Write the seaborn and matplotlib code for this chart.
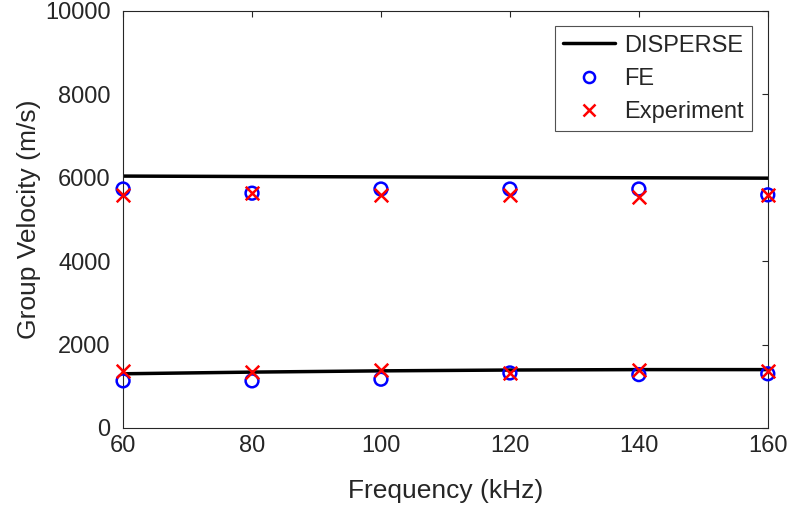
import numpy as np
import pandas as pd
import seaborn as sns
import matplotlib
matplotlib.use("Agg")
import matplotlib.pyplot as plt
from matplotlib.lines import Line2D

freq = [60, 80, 100, 120, 140, 160]

# DISPERSE theoretical curves (two modes)
disperse_upper = [6040, 6030, 6020, 6010, 6000, 5990]
disperse_lower = [1300, 1340, 1370, 1390, 1400, 1400]

# FE simulation results
fe_upper = [5730, 5630, 5730, 5730, 5730, 5590]
fe_lower = [1130, 1130, 1170, 1320, 1280, 1300]

# Experimental measurements
exp_upper = [5590, 5630, 5590, 5590, 5540, 5590]
exp_lower = [1370, 1340, 1390, 1320, 1390, 1370]

sns.set_theme(style="white")
plt.rcParams["font.family"] = ["Liberation Sans", "DejaVu Sans"]
plt.rcParams["xtick.direction"] = "in"
plt.rcParams["ytick.direction"] = "in"

fig = plt.figure(figsize=(7.94, 5.13), dpi=100)
ax = fig.add_axes([0.155, 0.1657, 0.812, 0.813])

df_line = pd.DataFrame({
    "f": freq * 2,
    "v": disperse_upper + disperse_lower,
    "mode": ["upper"] * 6 + ["lower"] * 6,
})
for m in ["upper", "lower"]:
    sns.lineplot(data=df_line[df_line["mode"] == m], x="f", y="v", color="black",
                 linewidth=2.5, ax=ax, legend=False)

sns.scatterplot(x=freq + freq, y=fe_upper + fe_lower, marker="o", s=85,
                facecolor="none", edgecolor="blue", linewidth=1.8, ax=ax,
                clip_on=False, zorder=5)
sns.scatterplot(x=freq + freq, y=exp_upper + exp_lower, marker="x", s=95,
                color="red", linewidth=1.8, ax=ax, clip_on=False, zorder=6)

ax.set_xlim(60, 160)
ax.set_ylim(0, 10000)
ax.set_xticks([60, 80, 100, 120, 140, 160])
ax.set_yticks([0, 2000, 4000, 6000, 8000, 10000])
ax.tick_params(labelsize=17, length=4.5, width=0.8, color="#262626",
               top=True, right=True, labelcolor="#262626")
ax.tick_params(axis="y", pad=9)
ax.tick_params(axis="x", pad=5)
ax.set_xlabel("Frequency (kHz)", fontsize=19, color="#262626", labelpad=16)
ax.set_ylabel("Group Velocity (m/s)", fontsize=19, color="#262626", labelpad=3)
for s in ax.spines.values():
    s.set_color("#262626")
    s.set_linewidth(0.8)

handles = [
    Line2D([], [], color="black", linewidth=2.5),
    Line2D([], [], marker="o", linestyle="none", markerfacecolor="none",
           markeredgecolor="blue", markeredgewidth=1.8, markersize=8),
    Line2D([], [], marker="x", linestyle="none", color="red",
           markeredgewidth=1.8, markersize=9),
]
leg = ax.legend(handles, ["DISPERSE", "FE", "Experiment"], loc="upper right",
                fontsize=17, frameon=True, fancybox=False, edgecolor="#262626",
                borderaxespad=0.65, handlelength=2.2, labelspacing=0.48,
                borderpad=0.35, handletextpad=0.4)
leg.get_frame().set_linewidth(0.8)

fig.savefig("out.png", dpi=100)
